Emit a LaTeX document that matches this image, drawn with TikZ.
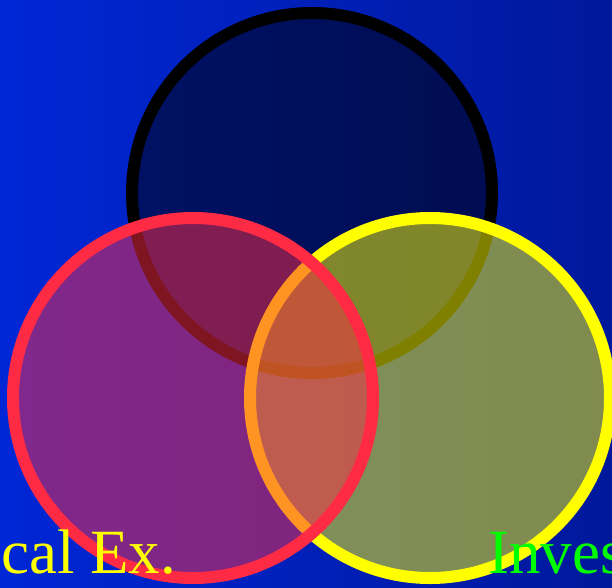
\documentclass[tikz,border=0pt]{standalone}
\usepackage{fontspec}
\setmainfont{Liberation Serif}
\definecolor{bgleft}{HTML}{0027D6}
\definecolor{bgright}{HTML}{00189A}
\definecolor{ringred}{HTML}{FF2A44}
\definecolor{ringyellow}{HTML}{FFFF00}
\definecolor{labelgreen}{HTML}{00FF00}
\tikzset{
  vset/.style={circle, inner sep=0pt, minimum size=360pt, line width=12pt, fill opacity=0.5},
  lbl/.style={anchor=base west, inner sep=0pt, font=\fontsize{63}{70}\selectfont}
}
\begin{document}
\begin{tikzpicture}[x=1pt,y=-1pt]
\useasboundingbox (0,0) rectangle (612,587);
\clip (0,0) rectangle (612,587);
\shade[left color=bgleft, right color=bgright] (0,0) rectangle (612,587);
\node[vset, draw=black, fill=black] (top) at (312,193) {};
\node[vset, draw=ringyellow, fill=ringyellow] (right) at (430,398) {};
\node[vset, draw=ringred, fill=ringred] (left) at (193,398) {};
\node[lbl, text=ringyellow] (lefttext) at (1,573) {cal Ex.};
\node[lbl, text=labelgreen] (righttext) at (488,573) {Inves};
\end{tikzpicture}
\end{document}
